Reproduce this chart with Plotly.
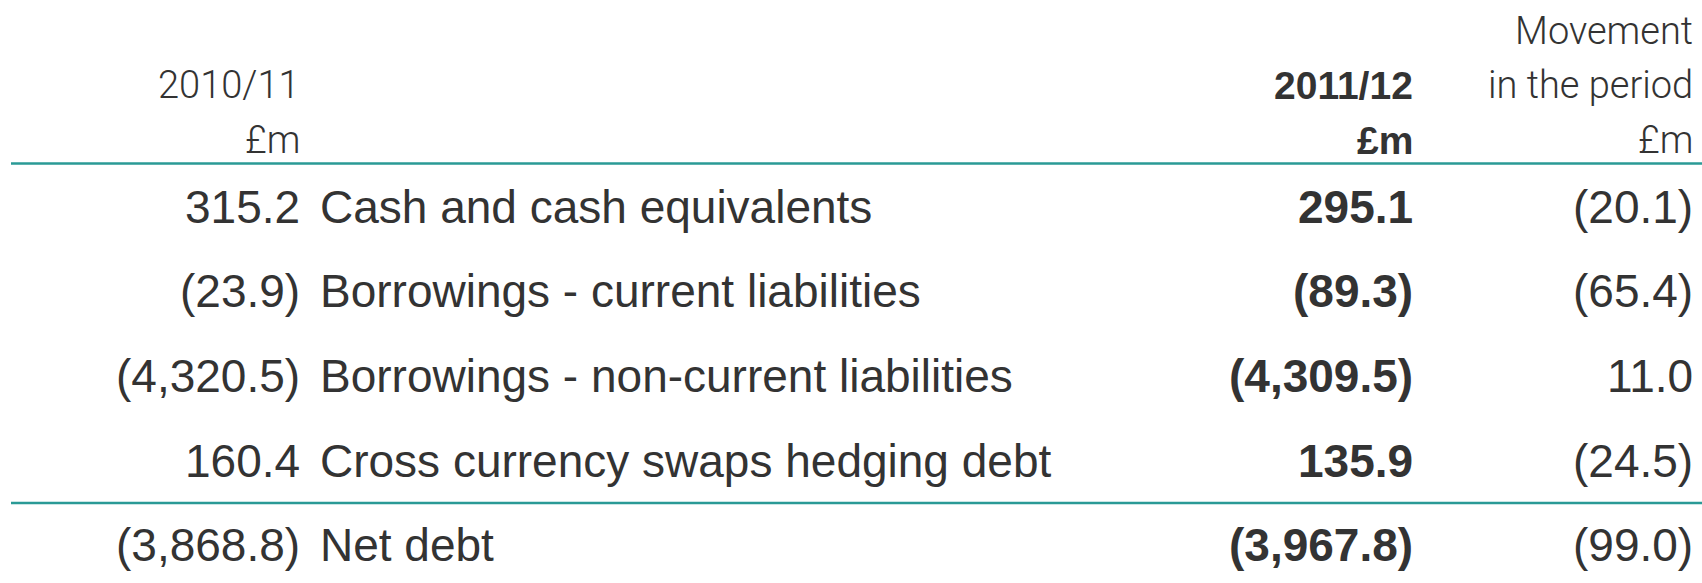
import plotly.graph_objects as go

# ---- data ----
header_prev = ["2010/11", "£m"]
header_curr = ["2011/12", "£m"]
header_move = ["Movement", "in the period", "£m"]
labels = [
    "Cash and cash equivalents",
    "Borrowings - current liabilities",
    "Borrowings - non-current liabilities",
    "Cross currency swaps hedging debt",
    "Net debt",
]
values_2010_11 = [315.2, -23.9, -4320.5, 160.4, -3868.8]
values_2011_12 = [295.1, -89.3, -4309.5, 135.9, -3967.8]
movement = [-20.1, -65.4, 11.0, -24.5, -99.0]


def fmt(v):
    return f"({abs(v):,.1f})" if v < 0 else f"{v:,.1f}"


# ---- layout constants ----
W, H = 1702, 583
col1_right = 300
label_left = 320
col2_right = 1413
col3_right = 1693
row_y = [207, 291, 376, 461, 545]
head_y = [31, 85, 140]
rule_y = [163.5, 503]
rule_x0 = 11

body_font = dict(family="Liberation Sans, Arial, sans-serif", size=46, color="#333333")
bold_font = dict(family="Liberation Sans, Arial, sans-serif", size=46, color="#333333", weight="bold")
head_font = dict(family="Roboto, Liberation Sans, sans-serif", size=38, color="#333333", weight=300)
head_bold = dict(family="Liberation Sans, Arial, sans-serif", size=39, color="#333333", weight="bold")

fig = go.Figure()
fig.add_trace(go.Scatter(x=[0, W], y=[0, H], mode="markers", marker=dict(opacity=0), hoverinfo="skip", showlegend=False))

ann = []


def add(text, x, y, anchor, font):
    ann.append(dict(text=text, x=x, y=y, xref="x", yref="y", xanchor=anchor, yanchor="middle",
                    showarrow=False, font=font, borderpad=0, borderwidth=0))


# headers
add(header_prev[0], col1_right, head_y[1], "right", head_font)
add(header_prev[1], col1_right, head_y[2], "right", head_font)
add(header_curr[0], col2_right, head_y[1], "right", head_bold)
add(header_curr[1], col2_right, head_y[2], "right", head_bold)
for t, y in zip(header_move, head_y):
    add(t, col3_right, y, "right", head_font)

# body
for i, lab in enumerate(labels):
    y = row_y[i]
    add(fmt(values_2010_11[i]), col1_right, y, "right", body_font)
    add(lab, label_left, y, "left", body_font)
    add(fmt(values_2011_12[i]), col2_right, y, "right", bold_font)
    add(fmt(movement[i]), col3_right, y, "right", body_font)

shapes = [dict(type="line", xref="x", yref="y", x0=rule_x0, x1=W, y0=ry, y1=ry,
               line=dict(color="#2a9a96", width=2.5)) for ry in rule_y]

fig.update_layout(
    width=W, height=H,
    margin=dict(l=0, r=0, t=0, b=0),
    paper_bgcolor="white", plot_bgcolor="white",
    xaxis=dict(range=[0, W], visible=False, fixedrange=True),
    yaxis=dict(range=[H, 0], visible=False, fixedrange=True),
    annotations=ann, shapes=shapes, showlegend=False,
)

fig.write_html(
    "out.html",
    config={"displayModeBar": False},
    post_script="document.body.style.margin='0';document.body.style.overflow='hidden';",
)
